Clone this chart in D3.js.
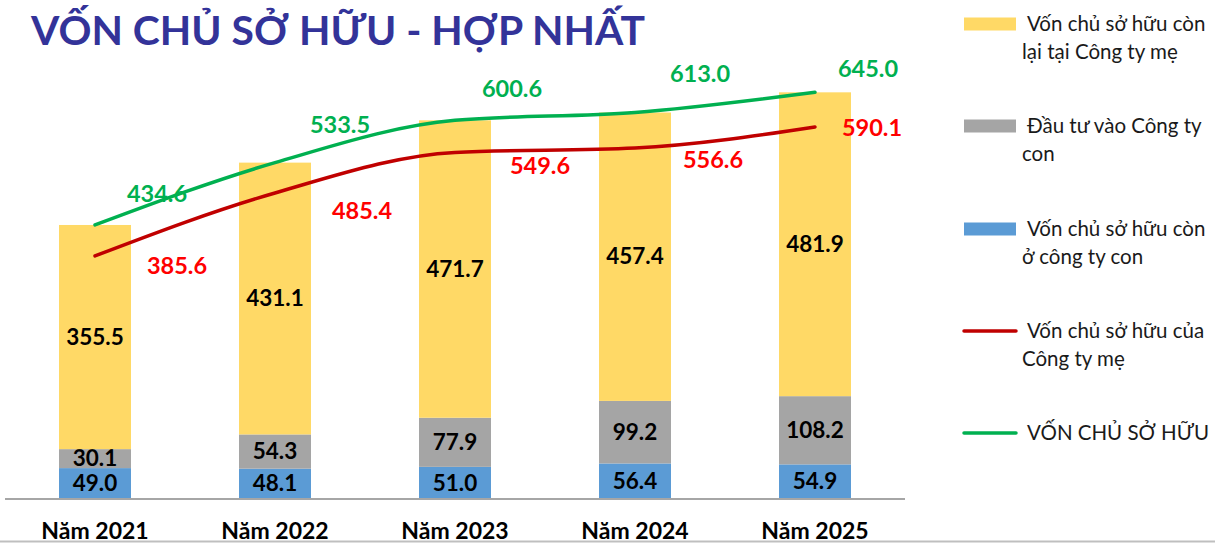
<!DOCTYPE html>
<html><head><meta charset="utf-8">
<script src="https://cdn.jsdelivr.net/npm/d3@7/dist/d3.min.js"></script>
<style>
html,body{margin:0;padding:0;background:#fff;overflow:hidden}
svg{display:block}
</style></head>
<body>
<svg id="c" width="1215" height="544"></svg>
<script>
const categories = ["Năm 2021","Năm 2022","Năm 2023","Năm 2024","Năm 2025"];
const subsidiaryEquity = [49.0, 48.1, 51.0, 56.4, 54.9];      // blue
const investInSubs = [30.1, 54.3, 77.9, 99.2, 108.2];         // gray
const remainingParent = [355.5, 431.1, 471.7, 457.4, 481.9];  // yellow
const parentEquity = [385.6, 485.4, 549.6, 556.6, 590.1];     // red line
const totalEquity = [434.6, 533.5, 600.6, 613.0, 645.0];      // green line
const title = "VỐN CHỦ SỞ HỮU - HỢP NHẤT";
const legendLabels = [
  ["Vốn chủ sở hữu còn","lại tại Công ty mẹ"],
  ["Đầu tư vào Công ty","con"],
  ["Vốn chủ sở hữu còn","ở công ty con"],
  ["Vốn chủ sở hữu của","Công ty mẹ"],
  ["VỐN CHỦ SỞ HỮU"]
];

const C = {yellow:"#FFD966", gray:"#A5A5A5", blue:"#5B9BD5", red:"#C00000", green:"#00B050", redLbl:"#FF0000", greenLbl:"#00B050"};
const FONT = "Lato, 'Open Sans', sans-serif";
const svg = d3.select("#c");

// bottom frame line
svg.append("line").attr("x1",0).attr("x2",1215).attr("y1",541.5).attr("y2",541.5)
  .attr("stroke","#BFBFBF").attr("stroke-width",2);

const x = d3.scaleBand().domain(categories).range([5,905]).paddingInner(0.6).paddingOuter(0.3);
const y = d3.scaleLinear().domain([0,700]).range([499, 499 - 700*0.6305]);

const keys = ["blue","gray","yellow"];
const rows = categories.map((c,i)=>({cat:c, blue:subsidiaryEquity[i], gray:investInSubs[i], yellow:remainingParent[i]}));
const stack = d3.stack().keys(keys)(rows);

const g = svg.append("g");
stack.forEach(layer=>{
  g.selectAll(null).data(layer).enter().append("rect")
    .attr("x",d=>x(d.data.cat)).attr("width",x.bandwidth())
    .attr("y",d=>y(d[1])).attr("height",d=>y(d[0])-y(d[1]))
    .attr("fill",C[layer.key]);
  g.selectAll(null).data(layer).enter().append("text")
    .attr("x",d=>x(d.data.cat)+x.bandwidth()/2)
    .attr("y",d=>(y(d[0])+y(d[1]))/2)
    .attr("dy","0.34em").attr("text-anchor","middle")
    .attr("font-family",FONT).attr("font-weight","bold").attr("font-size",22.5)
    .attr("fill","#000").text(d=>(d[1]-d[0]).toFixed(1));
});

// axis
const xAxis = d3.axisBottom(x).tickSize(0).tickPadding(0);
const ax = svg.append("g").attr("transform","translate(0,499)").call(xAxis);
ax.select(".domain").attr("stroke","#A6A6A6").attr("stroke-width",2).attr("d","M5,0H905");
ax.selectAll("text").attr("y",40).attr("dy",0).attr("font-family",FONT).attr("font-weight","bold")
  .attr("font-size",23).attr("fill","#000");

// lines
const cx = c => x(c)+x.bandwidth()/2;
const lineGen = d3.line().x(d=>cx(d.cat)).y(d=>y(d.v)).curve(d3.curveMonotoneX);
const series = [
  {vals:totalEquity, color:C.green, lbl:C.greenLbl, off:[[62,-31],[65,-38],[57,-32],[65,-39],[53,-24]]},
  {vals:parentEquity, color:C.red, lbl:C.redLbl, off:[[82,10],[87,18],[85,13],[78,11],[57,1]]}
];
series.forEach(s=>{
  const pts = categories.map((c,i)=>({cat:c, v:s.vals[i]}));
  svg.append("path").datum(pts).attr("d",lineGen).attr("fill","none")
    .attr("stroke",s.color).attr("stroke-width",3.5).attr("stroke-linecap","round");
  svg.selectAll(null).data(pts).enter().append("text")
    .attr("x",(d,i)=>cx(d.cat)+s.off[i][0]).attr("y",(d,i)=>y(d.v)+s.off[i][1])
    .attr("dy","0.36em").attr("text-anchor","middle")
    .attr("font-family",FONT).attr("font-weight","bold").attr("font-size",23.5)
    .attr("fill",s.lbl).text(d=>d.v.toFixed(1));
});

// title
svg.append("text").attr("x",31).attr("y",45).attr("font-family",FONT).attr("font-weight","bold")
  .attr("font-size",41).attr("fill","#333399").attr("textLength",614).attr("lengthAdjust","spacingAndGlyphs")
  .text(title);

// legend
const legColors = [C.yellow, C.gray, C.blue, C.red, C.green];
const legY = [24, 126, 229, 331, 433];
legendLabels.forEach((lines,i)=>{
  const gy = legY[i];
  if(i<3){
    svg.append("rect").attr("x",964).attr("y",gy-6.5).attr("width",52).attr("height",13).attr("fill",legColors[i]);
  } else {
    svg.append("line").attr("x1",964).attr("x2",1016).attr("y1",gy).attr("y2",gy)
      .attr("stroke",legColors[i]).attr("stroke-width",3.5).attr("stroke-linecap","round");
  }
  lines.forEach((t,j)=>{
    svg.append("text").attr("x", j===0 ? 1027 : 1022).attr("y",gy+7+j*28)
      .attr("font-family",FONT).attr("font-size",20.5).attr("fill","#1a1a1a").text(t);
  });
});
</script>
</body></html>
